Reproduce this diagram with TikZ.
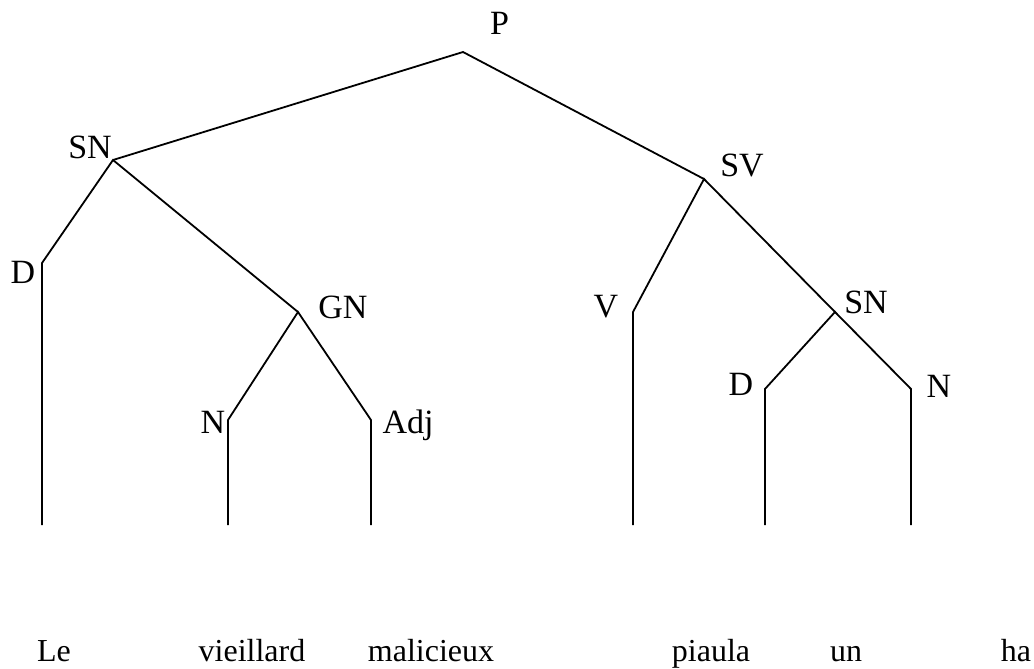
\documentclass[tikz,border=0pt]{standalone}
\usepackage{fontspec}
\setmainfont{Liberation Serif}
\begin{document}
\begin{tikzpicture}[x=1pt,y=-1pt,
  branch/.style={line width=1.8pt, line join=miter},
  lab/.style={inner sep=0pt, anchor=base, font=\fontsize{34}{36}\selectfont},
  word/.style={inner sep=0pt, anchor=base, font=\fontsize{32}{34}\selectfont}]
\useasboundingbox (0,0) rectangle (1034,669);
% junctions
\coordinate (p) at (463,52);
\coordinate (sn1) at (113,160);
\coordinate (sv) at (704,179);
\coordinate (d1) at (42,263);
\coordinate (gn) at (298,312);
\coordinate (n1) at (228,420);
\coordinate (adj) at (371,420);
\coordinate (v) at (633,312);
\coordinate (sn2) at (835,312);
\coordinate (d2) at (765,389);
\coordinate (n2) at (911,389);
\coordinate (e1) at (42,525);
\coordinate (e2) at (228,525);
\coordinate (e3) at (371,525);
\coordinate (e4) at (633,525);
\coordinate (e5) at (765,525);
\coordinate (e6) at (911,525);
% labels
\node[lab] (lp) at (499.5,35) {P};
\node[lab] (lsn1) at (90,158) {SN};
\node[lab] (ld1) at (23,283) {D};
\node[lab] (lgn) at (343,318) {GN};
\node[lab] (ln1) at (213,433) {N};
\node[lab] (ladj) at (408,433) {Adj};
\node[lab] (lsv) at (742,176) {SV};
\node[lab] (lv) at (606,317) {V};
\node[lab] (lsn2) at (866,313) {SN};
\node[lab] (ld2) at (741,395) {D};
\node[lab] (ln2) at (939,397) {N};
% words
\node[word] (w1) at (54,661) {Le};
\node[word] (w2) at (252,661) {vieillard};
\node[word] (w3) at (431,661) {malicieux};
\node[word] (w4) at (711,661) {piaula};
\node[word] (w5) at (846,661) {un};
\node[word] (w6) at (1016,661) {ha};
% branches
\draw[branch] (sn1) -- (p) -- (sv);
\draw[branch] (e1) -- (d1) -- (sn1) -- (gn);
\draw[branch] (e2) -- (n1) -- (gn) -- (adj) -- (e3);
\draw[branch] (e4) -- (v) -- (sv) -- (sn2);
\draw[branch] (e5) -- (d2) -- (sn2) -- (n2) -- (e6);
\end{tikzpicture}
\end{document}
